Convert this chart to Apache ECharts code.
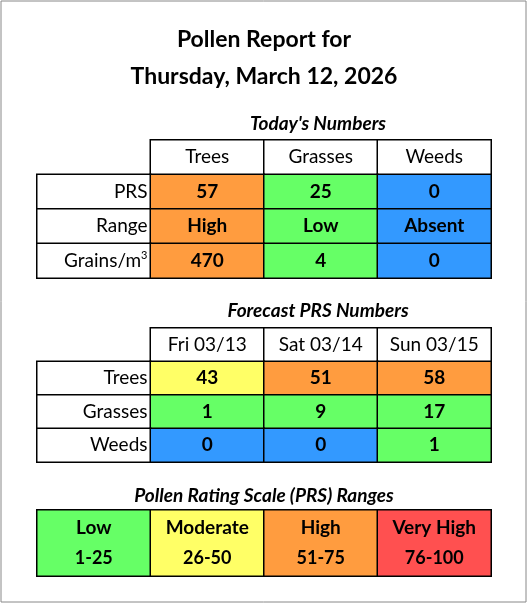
<!DOCTYPE html>
<html><head><meta charset="utf-8">
<script src="https://cdn.jsdelivr.net/npm/echarts@6/dist/echarts.min.js"></script>
<style>html,body{margin:0;background:#fff}#c{width:528px;height:604px}</style>
</head><body><div id="c"></div>
<script>
var FONT = 'Lato, "Open Sans", sans-serif';
// today's numbers
var todayCols = ['Trees', 'Grasses', 'Weeds'];
var todayRows = ['PRS', 'Range', 'Grains/m{sup|3}'];
var todayPRS = [57, 25, 0];
var todayRange = ['High', 'Low', 'Absent'];
var todayGrains = [470, 4, 0];
// forecast
var forecastDays = ['Fri 03/13', 'Sat 03/14', 'Sun 03/15'];
var forecastRows = ['Trees', 'Grasses', 'Weeds'];
var forecastTrees = [43, 51, 58];
var forecastGrasses = [1, 9, 17];
var forecastWeeds = [0, 0, 1];
// scale
var scaleNames = ['Low', 'Moderate', 'High', 'Very High'];
var scaleRanges = ['1-25', '26-50', '51-75', '76-100'];
var scaleColors = ['#66ff66', '#ffff66', '#ff9c3f', '#ff5050'];

function prsColor(v) {
    if (v == 0) return '#3399ff';
    if (v <= 25) return scaleColors[0];
    if (v <= 50) return scaleColors[1];
    if (v <= 75) return scaleColors[2];
    return scaleColors[3];
}
var border = {borderColor: '#000', borderWidth: 1.5};
function cell(x, y, text, color, bold, right) {
    return {
        value: [x, y, 0],
        itemStyle: Object.assign({color: color}, border),
        label: {
            show: true, formatter: text, color: '#000', fontFamily: FONT, fontSize: 19,
            fontWeight: bold ? 'bold' : 'normal',
            position: right ? 'insideRight' : 'inside', distance: 4,
            rich: {sup: {fontSize: 11, verticalAlign: 'top', padding: [0, 0, 10, 0], fontFamily: FONT}}
        }
    };
}
function tableData(cols, rows, values, texts) {
    var d = [];
    cols.forEach(function (c, i) { d.push(cell(i + 1, 0, c, '#fff', false)); });
    rows.forEach(function (r, j) {
        d.push(cell(0, j + 1, r, '#fff', false, true));
        values[j].forEach(function (v, i) {
            d.push(cell(i + 1, j + 1, String(texts[j][i]), prsColor(todayOrSelf(values, j, i)), true));
        });
    });
    return d;
}
var colorSrc = null;
function todayOrSelf(values, j, i) { return colorSrc ? colorSrc[i] : values[j][i]; }

var todayData;
colorSrc = todayPRS;
todayData = tableData(todayCols, todayRows, [todayPRS, todayPRS, todayPRS], [todayPRS, todayRange, todayGrains]);
colorSrc = null;
var fv = [forecastTrees, forecastGrasses, forecastWeeds];
var forecastData = tableData(forecastDays, forecastRows, fv, fv);
var scaleData = scaleNames.map(function (n, i) {
    var c = cell(i, 0, '{n|' + n + '}\n{r|' + scaleRanges[i] + '}', scaleColors[i], true);
    c.label.rich = {n: {fontSize: 19, fontWeight: 'bold', fontFamily: FONT, lineHeight: 30},
                    r: {fontSize: 18, fontFamily: FONT, lineHeight: 30}};
    return c;
});

function axes(n) { return {type: 'category', data: Array.apply(null, Array(n)).map(function (_, i) { return i; }), show: false}; }
var grids = [
    {left: 37, top: 140, width: 454, height: 138},
    {left: 37, top: 328, width: 454, height: 134},
    {left: 37, top: 510, width: 454, height: 66}
];
var option = {
    animation: false,
    grid: grids,
    xAxis: [Object.assign(axes(4), {gridIndex: 0}), Object.assign(axes(4), {gridIndex: 1}), Object.assign(axes(4), {gridIndex: 2})],
    yAxis: [Object.assign(axes(4), {gridIndex: 0, inverse: true}), Object.assign(axes(4), {gridIndex: 1, inverse: true}), Object.assign(axes(1), {gridIndex: 2, inverse: true})],
    series: [
        {type: 'heatmap', xAxisIndex: 0, yAxisIndex: 0, data: todayData},
        {type: 'heatmap', xAxisIndex: 1, yAxisIndex: 1, data: forecastData},
        {type: 'heatmap', xAxisIndex: 2, yAxisIndex: 2, data: scaleData}
    ],
    graphic: [
        {type: 'rect', shape: {x: 1, y: 1, width: 525, height: 601}, style: {fill: 'none', stroke: '#888', lineWidth: 1}},
        {type: 'text', style: {x: 264, y: 40, text: 'Pollen Report for', textAlign: 'center', textVerticalAlign: 'middle', font: 'bold 23px ' + FONT, fill: '#000'}},
        {type: 'text', style: {x: 264, y: 77, text: 'Thursday, March 12, 2026', textAlign: 'center', textVerticalAlign: 'middle', font: 'bold 23px ' + FONT, fill: '#000'}},
        {type: 'text', style: {x: 318, y: 124, text: "Today's Numbers", textAlign: 'center', textVerticalAlign: 'middle', font: 'italic bold 19px ' + FONT, fill: '#000'}},
        {type: 'text', style: {x: 318, y: 311, text: 'Forecast PRS Numbers', textAlign: 'center', textVerticalAlign: 'middle', font: 'italic bold 19px ' + FONT, fill: '#000'}},
        {type: 'text', style: {x: 264, y: 496, text: 'Pollen Rating Scale (PRS) Ranges', textAlign: 'center', textVerticalAlign: 'middle', font: 'italic bold 19px ' + FONT, fill: '#000'}}
    ]
};
var myChart = echarts.init(document.getElementById('c'));
myChart.setOption(option);
</script>
</body></html>
